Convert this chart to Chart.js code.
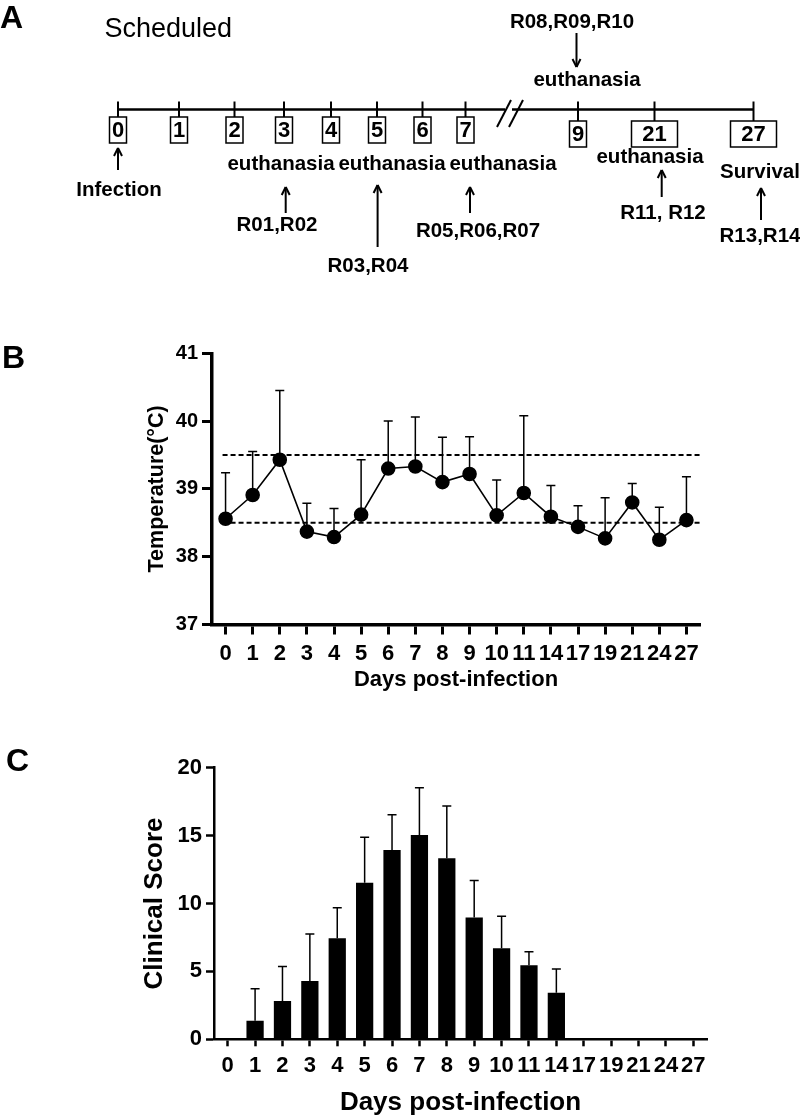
<!DOCTYPE html>
<html>
<head>
<meta charset="utf-8">
<script src="https://cdn.jsdelivr.net/npm/chart.js@4.4.1/dist/chart.umd.min.js"></script>
<style>
  body { margin: 0; background: #fff; width: 800px; height: 1119px; position: relative; overflow: hidden;
         font-family: "Liberation Sans", Arial, sans-serif; }
  canvas { position: absolute; left: 0; }
  .panel { position: absolute; font-weight: bold; font-size: 32px; line-height: 32px; color: #000; }
</style>
</head>
<body>
<canvas id="timeline" width="800" height="330" style="top:0;width:800px;height:330px"></canvas>
<canvas id="tempChart" width="800" height="370" style="top:330px;width:800px;height:370px"></canvas>
<canvas id="scoreChart" width="800" height="419" style="top:700px;width:800px;height:419px"></canvas>
<div class="panel" style="left:0;top:1px">A</div>
<div class="panel" style="left:2px;top:341px">B</div>
<div class="panel" style="left:6px;top:744px">C</div>
<script>
// days on the x axis of B and C
const days = ['0', '1', '2', '3', '4', '5', '6', '7', '8', '9', '10', '11', '14', '17', '19', '21', '24', '27'];

// B: rectal temperature, mean and SD (upper bar only)
const tempMean = [38.56, 38.91, 39.43, 38.37, 38.29, 38.62, 39.30, 39.33, 39.10, 39.22, 38.61, 38.94, 38.59, 38.44, 38.27, 38.80, 38.25, 38.54];
const tempSD = [0.68, 0.64, 1.02, 0.42, 0.42, 0.81, 0.70, 0.73, 0.66, 0.55, 0.52, 1.14, 0.46, 0.31, 0.60, 0.28, 0.48, 0.64];
const normalRange = [38.5, 39.5];
const tempTicks = [37, 38, 39, 40, 41];

// C: clinical score, mean and SD
const scoreMean = [0, 1.37, 2.82, 4.29, 7.44, 11.53, 13.94, 15.04, 13.33, 8.96, 6.70, 5.45, 3.43, 0, 0, 0, 0, 0];
const scoreSD = [0, 2.36, 2.55, 3.46, 2.25, 3.34, 2.60, 3.49, 3.85, 2.74, 2.36, 1.00, 1.75, 0, 0, 0, 0, 0];

// A: sampling schedule
const timelineDays = ['0', '1', '2', '3', '4', '5', '6', '7', '9', '21', '27'];

const FONT = '"Liberation Sans", Arial, sans-serif';
Chart.defaults.font.family = FONT;
Chart.defaults.color = '#000';

// upper error bars, drawn behind the marks
const errorBars = {
    id: 'errorBars',
    beforeDatasetsDraw(chart, args, opts) {
        const { ctx, scales: { x, y } } = chart;
        ctx.save();
        ctx.strokeStyle = '#000';
        ctx.lineWidth = opts.width;
        opts.mean.forEach((m, i) => {
            if (!opts.sd[i]) return;
            const px = x.getPixelForValue(i);
            const y0 = y.getPixelForValue(m);
            const y1 = y.getPixelForValue(m + opts.sd[i]);
            ctx.beginPath();
            ctx.moveTo(px, y0);
            ctx.lineTo(px, y1);
            ctx.moveTo(px - opts.cap, y1);
            ctx.lineTo(px + opts.cap, y1);
            ctx.stroke();
        });
        ctx.restore();
    }
};

// dashed normal-range lines in B
const refLines = {
    id: 'refLines',
    beforeDatasetsDraw(chart, args, opts) {
        const { ctx, chartArea, scales: { x, y } } = chart;
        ctx.save();
        ctx.setLineDash([5, 3]);
        ctx.lineWidth = 2;
        ctx.strokeStyle = '#000';
        const xl = x.getPixelForValue(0) - 3;
        opts.values.forEach(v => {
            const py = y.getPixelForValue(v);
            ctx.beginPath();
            ctx.moveTo(xl, py);
            ctx.lineTo(chartArea.right, py);
            ctx.stroke();
        });
        ctx.restore();
    }
};

// ---------- A: timeline schematic ----------
// horizontal spots of the day marks on the drawing (layout only)
const dayMarkX = [118, 179, 234.5, 284, 331, 377, 422.5, 465.5, 578, 654.5, 753.5];

const timelineDraw = {
    id: 'timelineDraw',
    afterDraw(chart) {
        const { ctx, scales: { x, y } } = chart;
        const X = v => x.getPixelForValue(v);
        const Y = v => y.getPixelForValue(v);
        const seg = (x1, y1, x2, y2) => {
            ctx.beginPath();
            ctx.moveTo(X(x1), Y(y1));
            ctx.lineTo(X(x2), Y(y2));
            ctx.stroke();
        };
        const text = (t, cx, cy, size, weight) => {
            ctx.font = (weight || 'bold') + ' ' + size + 'px ' + FONT;
            ctx.textAlign = 'center';
            ctx.textBaseline = 'middle';
            ctx.fillText(t, X(cx), Y(cy));
        };
        const arrow = (ax, from, to) => {
            ctx.lineWidth = 2;
            seg(ax, from, ax, to);
            const d = to < from ? 1 : -1;
            seg(ax - 4, to + d * 8, ax, to);
            seg(ax + 4, to + d * 8, ax, to);
        };

        ctx.save();
        ctx.strokeStyle = '#000';
        ctx.fillStyle = '#000';

        ctx.font = 'normal 27px ' + FONT;
        ctx.textAlign = 'left';
        ctx.textBaseline = 'alphabetic';
        ctx.fillText('Scheduled', X(104.5), Y(36.5));

        // axis with break
        ctx.lineWidth = 2.5;
        seg(dayMarkX[0], 109.5, 505, 109.5);
        seg(512, 109.5, dayMarkX[dayMarkX.length - 1], 109.5);
        ctx.lineWidth = 2;
        seg(497, 127, 511, 100);
        seg(509, 127, 523, 100);

        timelineDays.forEach((d, i) => {
            const tx = dayMarkX[i];
            const top = i >= 8 ? 121 : 117;
            const w = d.length > 1 ? 46 : 17;
            ctx.lineWidth = 2;
            seg(tx, 101.5, tx, top);
            ctx.lineWidth = 1.5;
            ctx.strokeRect(X(tx - w / 2), Y(top), w, 26);
            text(d, tx, top + 14, 22);
        });

        text('Infection', 119, 190, 20.5);
        arrow(118, 170, 148);

        text('euthanasia', 281, 164, 20.5);
        text('euthanasia', 392, 164, 20.5);
        text('euthanasia', 503, 164, 20.5);

        arrow(285.7, 213, 187);
        text('R01,R02', 277, 225, 20.5);
        arrow(377.6, 247, 185);
        text('R03,R04', 368, 266, 20.5);
        arrow(470, 213, 187);
        text('R05,R06,R07', 478, 231, 20.5);

        text('R08,R09,R10', 572, 22, 20.5);
        arrow(576.5, 33, 67);
        text('euthanasia', 587, 80, 20.5);

        text('euthanasia', 650, 157, 20.5);
        arrow(661.7, 197, 170);
        text('R11, R12', 663, 213, 20.5);

        text('Survival', 760, 172, 20.5);
        arrow(761, 220, 188);
        text('R13,R14', 760, 236, 20.5);

        ctx.restore();
    }
};

new Chart(document.getElementById('timeline'), {
    type: 'scatter',
    data: { datasets: [] },
    options: {
        responsive: false,
        animation: false,
        layout: { padding: 0 },
        plugins: { legend: { display: false }, tooltip: { enabled: false } },
        scales: {
            x: { type: 'linear', min: 0, max: 800, display: false },
            y: { type: 'linear', min: 0, max: 330, reverse: true, display: false }
        }
    },
    plugins: [timelineDraw]
});

// ---------- B: temperature ----------
new Chart(document.getElementById('tempChart'), {
    type: 'line',
    data: {
        labels: days,
        datasets: [{
            data: tempMean,
            borderColor: '#000',
            borderWidth: 1.6,
            pointRadius: 6.5,
            pointBackgroundColor: '#000',
            pointBorderColor: '#000',
            tension: 0,
            fill: false
        }]
    },
    options: {
        responsive: false,
        animation: false,
        layout: { padding: { left: 130, top: 23.3, right: 100, bottom: 0 } },
        plugins: {
            legend: { display: false },
            tooltip: { enabled: false },
            errorBars: { mean: tempMean, sd: tempSD, width: 1.5, cap: 4.5 },
            refLines: { values: normalRange }
        },
        scales: {
            x: {
                offset: true,
                grid: { drawOnChartArea: false, drawTicks: true, tickLength: 10, tickWidth: 3, tickColor: '#000', offset: false },
                border: { color: '#000', width: 3.5 },
                ticks: { color: '#000', autoSkip: false, maxRotation: 0, padding: 6,
                         font: { size: 22, weight: 'bold' } },
                title: { display: true, text: 'Days post-infection', color: '#000',
                         font: { size: 22, weight: 'bold' }, padding: { top: 0, bottom: 6.8 } },
                afterFit(s) { s.height = 75.5; }
            },
            y: {
                min: 37,
                max: 41,
                afterBuildTicks(s) { s.ticks = tempTicks.map(v => ({ value: v })); },
                grid: { drawOnChartArea: false, drawTicks: true, tickLength: 10, tickWidth: 3, tickColor: '#000' },
                border: { color: '#000', width: 3.5 },
                ticks: { color: '#000', padding: 4, font: { size: 20, weight: 'bold' } },
                title: { display: true, text: 'Temperature(°C)', color: '#000',
                         font: { size: 21.5, weight: 'bold' }, padding: { top: 14, bottom: 0 } },
                afterFit(s) { s.width = 82; }
            }
        }
    },
    plugins: [refLines, errorBars]
});

// ---------- C: clinical score ----------
new Chart(document.getElementById('scoreChart'), {
    type: 'bar',
    data: {
        labels: days,
        datasets: [{
            data: scoreMean,
            backgroundColor: '#000',
            borderWidth: 0,
            barPercentage: 0.63,
            categoryPercentage: 1.0
        }]
    },
    options: {
        responsive: false,
        animation: false,
        layout: { padding: { left: 130, top: 67.7, right: 93, bottom: 0 } },
        plugins: {
            legend: { display: false },
            tooltip: { enabled: false },
            errorBars: { mean: scoreMean, sd: scoreSD, width: 1.5, cap: 4.5 }
        },
        scales: {
            x: {
                offset: true,
                grid: { drawOnChartArea: false, drawTicks: true, tickLength: 7, tickWidth: 2.5, tickColor: '#000', offset: false },
                border: { color: '#000', width: 2.5 },
                ticks: { color: '#000', autoSkip: false, maxRotation: 0, padding: 6,
                         font: { size: 22, weight: 'bold' } },
                title: { display: true, text: 'Days post-infection', color: '#000',
                         font: { size: 26, weight: 'bold' }, padding: { top: 0, bottom: 0.4 } },
                afterFit(s) { s.height = 79.7; }
            },
            y: {
                min: 0,
                max: 20,
                ticks: { stepSize: 5, color: '#000', padding: 4, font: { size: 22, weight: 'bold' } },
                grid: { drawOnChartArea: false, drawTicks: true, tickLength: 8, tickWidth: 2.5, tickColor: '#000' },
                border: { color: '#000', width: 2.5 },
                title: { display: true, text: 'Clinical Score', color: '#000',
                         font: { size: 26, weight: 'bold' }, padding: { top: 9.4, bottom: 0 } },
                afterFit(s) { s.width = 84; }
            }
        }
    },
    plugins: [errorBars]
});
</script>
</body>
</html>
